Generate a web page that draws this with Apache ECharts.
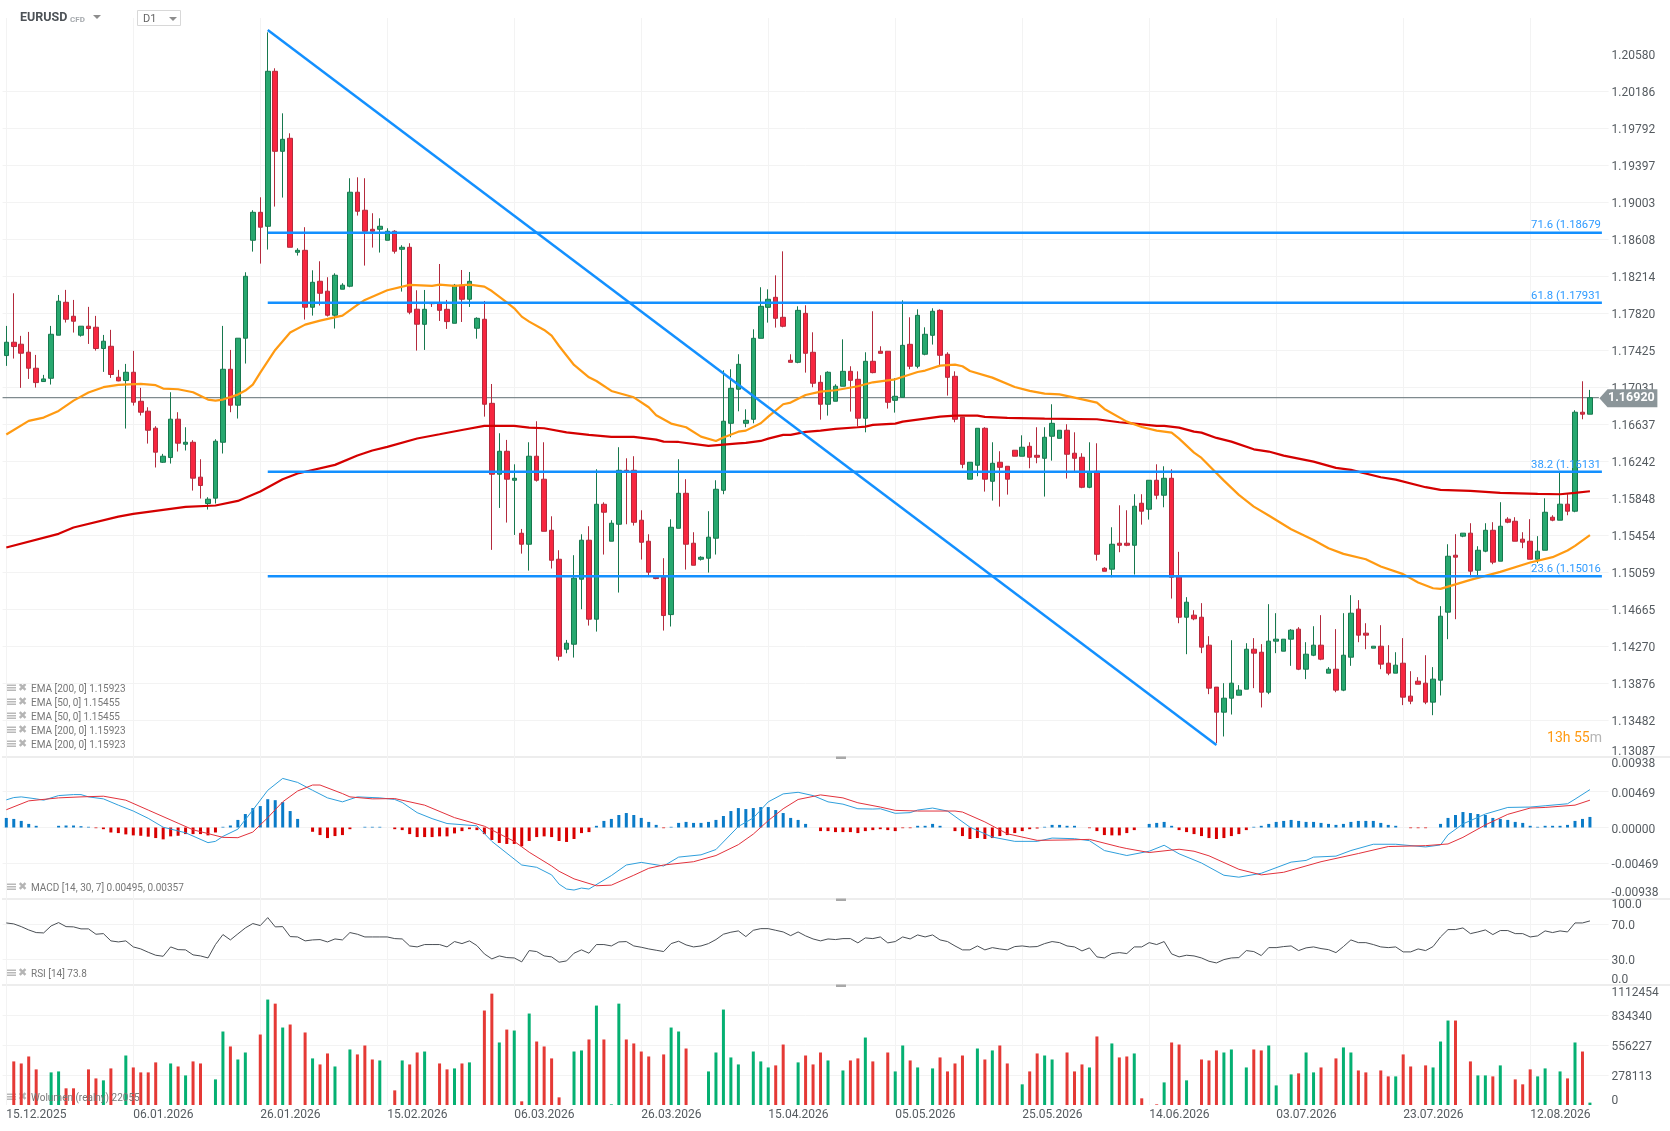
<!DOCTYPE html>
<html><head><meta charset="utf-8">
<style>html,body{margin:0;padding:0;background:#fff}#c{width:1670px;height:1131px}</style>
<script src="https://cdn.jsdelivr.net/npm/echarts@6/dist/echarts.min.js"></script>
</head><body><div id="c"></div>
<script>
const opens=[1.17369,1.17511,1.17490,1.17405,1.17234,1.17092,1.17127,1.17586,1.17937,1.17788,1.17586,1.17682,1.17671,1.17444,1.17468,1.17138,1.17103,1.17191,1.16882,1.16776,1.16595,1.16232,1.16282,1.16691,1.16424,1.16445,1.16073,1.15792,1.15849,1.16445,1.17223,1.16840,1.17554,1.18598,1.18896,1.18747,1.20399,1.19546,1.19685,1.18470,1.18491,1.17884,1.18161,1.18055,1.17799,1.18076,1.18108,1.19110,1.18918,1.18715,1.18715,1.18598,1.18694,1.18502,1.18523,1.17863,1.17702,1.17933,1.17926,1.17862,1.17713,1.18118,1.17969,1.17660,1.17756,1.16860,1.16104,1.16349,1.16040,1.15475,1.15358,1.16296,1.16051,1.15507,1.15198,1.14239,1.14292,1.14985,1.15401,1.14559,1.15784,1.15390,1.15571,1.16146,1.16146,1.15614,1.15390,1.15006,1.15006,1.14608,1.15528,1.15901,1.15369,1.15198,1.15209,1.15422,1.15933,1.16647,1.17010,1.16647,1.16690,1.17553,1.17883,1.17990,1.17777,1.17319,1.17297,1.17819,1.17404,1.17084,1.16850,1.16882,1.17042,1.17201,1.17116,1.16701,1.17308,1.17415,1.17415,1.16892,1.16924,1.17489,1.17255,1.17383,1.17585,1.17851,1.17383,1.17148,1.16711,1.16051,1.16200,1.16594,1.16029,1.16232,1.16189,1.16360,1.16296,1.16402,1.16306,1.16274,1.16509,1.16487,1.16573,1.16328,1.16285,1.15965,1.16136,1.15102,1.15092,1.15369,1.15369,1.15347,1.15795,1.15731,1.16040,1.15880,1.16061,1.15014,1.14580,1.14602,1.14580,1.14282,1.13835,1.13568,1.13717,1.13749,1.13813,1.14239,1.14207,1.13781,1.14325,1.14218,1.14346,1.14453,1.14026,1.14175,1.14282,1.13984,1.14026,1.13803,1.14154,1.14666,1.14410,1.14250,1.14271,1.14090,1.13984,1.14090,1.13739,1.13898,1.13877,1.13675,1.13909,1.14634,1.15241,1.15444,1.15476,1.15081,1.15284,1.15507,1.15177,1.15625,1.15603,1.15412,1.15390,1.15198,1.15294,1.15646,1.15614,1.15785,1.15710,1.16765,1.16744];
const closes=[1.17511,1.17465,1.17394,1.17234,1.17081,1.17120,1.17596,1.17948,1.17756,1.17735,1.17682,1.17657,1.17444,1.17522,1.17167,1.17099,1.17191,1.16872,1.16765,1.16573,1.16339,1.16296,1.16691,1.16435,1.16445,1.16062,1.15984,1.15838,1.16456,1.17223,1.16840,1.17554,1.18214,1.18896,1.18737,1.20399,1.19546,1.19674,1.18523,1.18491,1.17884,1.18150,1.18033,1.17799,1.18225,1.18119,1.19110,1.18907,1.18694,1.18694,1.18747,1.18694,1.18481,1.18523,1.17831,1.17703,1.17862,1.17922,1.17851,1.17731,1.18118,1.17969,1.18160,1.17766,1.16850,1.16104,1.16349,1.16051,1.16061,1.15358,1.16296,1.16040,1.15496,1.15187,1.14164,1.14303,1.14996,1.15401,1.14559,1.15784,1.15699,1.15582,1.16146,1.16136,1.15592,1.15379,1.15060,1.14992,1.14598,1.15539,1.15901,1.15358,1.15134,1.15219,1.15433,1.15944,1.16669,1.17020,1.17276,1.16679,1.17553,1.17894,1.17969,1.17766,1.17681,1.17297,1.17851,1.17393,1.17074,1.16850,1.17191,1.17042,1.17201,1.17105,1.16701,1.17308,1.17187,1.17393,1.16871,1.16935,1.17478,1.17255,1.17798,1.17596,1.17841,1.17372,1.17137,1.16690,1.16210,1.16232,1.16594,1.16051,1.16221,1.16178,1.16051,1.16296,1.16392,1.16285,1.16285,1.16498,1.16647,1.16573,1.16317,1.16274,1.15965,1.16125,1.15251,1.15070,1.15358,1.15347,1.15347,1.15763,1.15710,1.16040,1.15880,1.16061,1.15006,1.14580,1.14740,1.14563,1.14261,1.13824,1.13568,1.13717,1.13877,1.13803,1.14239,1.14197,1.13781,1.14325,1.14346,1.14346,1.14442,1.14026,1.14186,1.14282,1.14133,1.14026,1.13803,1.14175,1.14623,1.14389,1.14389,1.14271,1.14080,1.13984,1.14069,1.13728,1.13685,1.13866,1.13675,1.13920,1.14591,1.15230,1.15220,1.15476,1.15071,1.15294,1.15507,1.15167,1.15550,1.15593,1.15390,1.15380,1.15198,1.15284,1.15699,1.15614,1.15785,1.15710,1.16765,1.16744,1.16920];
const highs=[1.17685,1.18033,1.17579,1.17621,1.17376,1.17163,1.17685,1.18015,1.18069,1.17962,1.17682,1.17888,1.17792,1.17589,1.17643,1.17216,1.17280,1.17419,1.17025,1.16818,1.16616,1.16321,1.16978,1.16765,1.16605,1.16467,1.16264,1.15859,1.16477,1.17685,1.17429,1.17554,1.18257,1.18918,1.19056,1.20814,1.20431,1.19951,1.19738,1.18513,1.18737,1.18278,1.18374,1.18204,1.18246,1.18140,1.19259,1.19269,1.19259,1.18886,1.18832,1.18726,1.18705,1.18545,1.18566,1.18065,1.18068,1.17937,1.18345,1.17962,1.18132,1.18281,1.18260,1.17777,1.17951,1.17066,1.16541,1.16470,1.16210,1.15521,1.16445,1.16669,1.16445,1.15656,1.15294,1.14338,1.15241,1.15464,1.15550,1.16157,1.15805,1.15614,1.16392,1.16274,1.16296,1.15720,1.15464,1.15006,1.15209,1.15624,1.16264,1.16051,1.15486,1.15230,1.15710,1.16040,1.17212,1.17223,1.17383,1.16796,1.17649,1.18097,1.18075,1.18224,1.18480,1.17383,1.17894,1.17905,1.17617,1.17159,1.17201,1.17063,1.17542,1.17255,1.17201,1.17404,1.17841,1.17468,1.17415,1.17127,1.17958,1.17777,1.17862,1.17670,1.17873,1.17862,1.17404,1.17201,1.16711,1.16232,1.16594,1.16605,1.16445,1.16349,1.16189,1.16360,1.16519,1.16445,1.16605,1.16605,1.16850,1.16573,1.16637,1.16551,1.16328,1.16445,1.16434,1.15113,1.15539,1.15773,1.15720,1.15891,1.15891,1.16040,1.16210,1.16189,1.16157,1.15277,1.14794,1.14655,1.14730,1.14378,1.13835,1.13877,1.14335,1.13856,1.14303,1.14357,1.14293,1.14719,1.14623,1.14346,1.14453,1.14474,1.14314,1.14484,1.14602,1.14048,1.14453,1.14623,1.14815,1.14762,1.14516,1.14271,1.14495,1.14282,1.14207,1.14357,1.14005,1.13941,1.14175,1.14048,1.14698,1.15358,1.15465,1.15476,1.15582,1.15337,1.15582,1.15593,1.15806,1.15646,1.15646,1.15486,1.15625,1.15444,1.15848,1.15667,1.16136,1.15891,1.16786,1.17095,1.17003];
const lows=[1.17259,1.17337,1.17025,1.17120,1.17028,1.17088,1.17060,1.17586,1.17721,1.17614,1.17571,1.17493,1.17422,1.17195,1.17131,1.17095,1.16591,1.16836,1.16730,1.16431,1.16176,1.16225,1.16218,1.16346,1.16357,1.15930,1.15845,1.15728,1.15792,1.16325,1.16765,1.16698,1.17284,1.18477,1.18349,1.18499,1.18957,1.19053,1.18523,1.18435,1.17753,1.17795,1.17902,1.17785,1.17657,1.18076,1.18097,1.18861,1.18328,1.18520,1.18467,1.18598,1.18456,1.18051,1.17809,1.17422,1.17429,1.17887,1.17738,1.17653,1.17713,1.17727,1.17887,1.17549,1.16718,1.15298,1.15745,1.15589,1.15457,1.15258,1.15077,1.16026,1.15496,1.15099,1.14118,1.14196,1.14150,1.14665,1.14491,1.14427,1.15248,1.15390,1.14843,1.15571,1.15557,1.15195,1.15028,1.14985,1.14438,1.14481,1.15528,1.15088,1.15134,1.15184,1.15056,1.15248,1.15891,1.16498,1.16775,1.16605,1.16647,1.17553,1.17720,1.17667,1.17670,1.17297,1.17287,1.17187,1.17031,1.16686,1.16729,1.16882,1.17042,1.16772,1.16612,1.16551,1.17180,1.17393,1.16804,1.16761,1.16924,1.17223,1.17233,1.17372,1.17486,1.17265,1.16942,1.16658,1.16168,1.16051,1.16083,1.15919,1.15823,1.15759,1.15887,1.16296,1.16296,1.16168,1.16221,1.15866,1.16249,1.16487,1.16058,1.16132,1.15955,1.15955,1.15184,1.15070,1.15006,1.15273,1.15337,1.15035,1.15567,1.15621,1.15837,1.15752,1.14779,1.14516,1.14186,1.14548,1.14197,1.13760,1.13238,1.13309,1.13543,1.13749,1.13813,1.13824,1.13618,1.13760,1.14197,1.14218,1.14062,1.14016,1.13920,1.14165,1.14122,1.13984,1.13781,1.13792,1.14062,1.14314,1.14239,1.14250,1.14026,1.13962,1.13984,1.13643,1.13653,1.13866,1.13653,1.13536,1.13746,1.14346,1.14559,1.15433,1.15007,1.15028,1.15273,1.15145,1.15177,1.15582,1.15390,1.15316,1.15198,1.15156,1.15294,1.15603,1.15614,1.15667,1.15699,1.16690,1.16744];

const ema50Idx=[0,3,5,7,9,11,13,15,18,20,21,23,25,27,28,29,31,32,33,34,36,38,40,42,45,47,48,51,54,57,58,60,62,64,65,67,68,69,70,72,73,74,76,78,79,81,84,86,87,89,91,93,95,96,98,99,101,102,104,105,107,109,111,114,116,119,122,123,125,127,128,129,132,135,137,139,141,143,146,147,150,152,154,156,157,159,160,163,165,167,169,172,175,177,179,182,184,187,189,191,192,196,200,204,207,209,210,212];
const ema50Val=[1.16527,1.16673,1.16708,1.16779,1.16889,1.16975,1.17032,1.17056,1.17067,1.17053,1.17017,1.17010,1.16978,1.16900,1.16889,1.16900,1.16953,1.16996,1.17060,1.17188,1.17429,1.17614,1.17699,1.17742,1.17795,1.17909,1.17962,1.18065,1.18122,1.18111,1.18125,1.18111,1.18125,1.18104,1.18057,1.17937,1.17873,1.17784,1.17731,1.17642,1.17581,1.17471,1.17269,1.17137,1.17098,1.16992,1.16924,1.16818,1.16733,1.16644,1.16605,1.16505,1.16459,1.16495,1.16558,1.16569,1.16647,1.16718,1.16850,1.16868,1.16949,1.16985,1.16999,1.17042,1.17084,1.17116,1.17194,1.17209,1.17262,1.17272,1.17255,1.17205,1.17134,1.17034,1.16992,1.16963,1.16956,1.16921,1.16868,1.16800,1.16665,1.16608,1.16569,1.16548,1.16484,1.16335,1.16278,1.16036,1.15884,1.15759,1.15664,1.15518,1.15404,1.15316,1.15255,1.15198,1.15120,1.15039,1.14950,1.14889,1.14882,1.14978,1.15063,1.15163,1.15220,1.15291,1.15341,1.15455];
const ema200Idx=[0,7,9,15,17,21,24,28,31,34,37,39,44,47,49,51,55,58,61,64,68,70,72,75,78,81,84,87,88,90,94,98,99,101,102,104,105,107,109,111,114,115,116,119,120,125,127,130,131,134,139,146,149,151,154,155,157,159,160,162,164,167,169,171,175,178,180,184,186,190,192,196,200,205,208,210,212];
const ema200Val=[1.15323,1.15469,1.15536,1.15653,1.15682,1.15724,1.15756,1.15771,1.15820,1.15920,1.16051,1.16112,1.16204,1.16303,1.16357,1.16396,1.16485,1.16530,1.16576,1.16619,1.16619,1.16601,1.16594,1.16551,1.16523,1.16502,1.16502,1.16473,1.16452,1.16448,1.16406,1.16434,1.16438,1.16459,1.16484,1.16523,1.16523,1.16555,1.16569,1.16587,1.16605,1.16612,1.16630,1.16644,1.16665,1.16718,1.16729,1.16729,1.16715,1.16704,1.16697,1.16690,1.16658,1.16644,1.16619,1.16619,1.16601,1.16558,1.16548,1.16491,1.16452,1.16370,1.16346,1.16303,1.16239,1.16172,1.16150,1.16072,1.16047,1.15966,1.15937,1.15927,1.15905,1.15895,1.15891,1.15905,1.15923];

const macdHist=[.00125,.00112,.00086,.00047,.00022,0,0,.00022,.00026,.00026,.00017,.00009,-.00009,-.00022,-.00065,-.00073,-.00090,-.00103,-.00108,-.00120,-.00138,-.00155,-.00116,-.00108,-.00086,-.00086,-.00086,-.00103,-.00065,.00009,.00026,.00099,.00176,.00254,.00280,.00370,.00357,.00331,.00215,.00112,0,-.00056,-.00099,-.00138,-.00112,-.00099,-.00022,0,.00009,.00009,.00009,0,-.00022,-.00034,-.00086,-.00125,-.00125,-.00125,-.00116,-.00116,-.00077,-.00047,-.00022,-.00034,-.00086,-.00163,-.00202,-.00215,-.00215,-.00245,-.00176,-.00125,-.00116,-.00125,-.00176,-.00189,-.00150,-.00073,-.00060,.00022,.00086,.00112,.00163,.00189,.00163,.00125,.00073,.00034,-.00009,.00009,.00060,.00073,.00060,.00060,.00073,.00099,.00150,.00215,.00254,.00241,.00254,.00267,.00267,.00228,.00189,.00125,.00099,.00047,0,-.00047,-.00047,-.00060,-.00060,-.00060,-.00073,-.00047,-.00034,-.00022,-.00034,-.00047,-.00009,-.00009,.00022,.00022,.00047,.00022,0,-.00047,-.00112,-.00150,-.00138,-.00150,-.00138,-.00112,-.00099,-.00073,-.00047,-.00022,-.00013,.00009,.00034,.00034,.00022,.00022,0,-.00009,-.00047,-.00099,-.00103,-.00103,-.00073,-.00034,0,.00047,.00060,.00073,.00022,-.00034,-.00060,-.00086,-.00112,-.00138,-.00150,-.00138,-.00112,-.00086,-.00034,.00009,.00022,.00047,.00073,.00086,.00099,.00086,.00073,.00073,.00060,.00047,.00034,.00047,.00073,.00086,.00086,.00086,.00060,.00034,.00022,0,-.00009,-.00009,-.00009,0,.00047,.00125,.00163,.00202,.00189,.00176,.00163,.00125,.00112,.00099,.00073,.00060,.00022,.00009,.00022,.00022,.00022,.00034,.00086,.00112,.00138];
const macdIdx=[0,1,2,4,5,7,9,10,11,13,15,17,19,21,24,27,28,29,31,33,35,37,39,41,43,45,47,50,52,53,55,57,59,63,65,69,71,73,74,75,76,77,78,81,83,85,88,90,93,95,98,100,102,104,106,108,110,112,114,116,117,119,121,122,124,126,129,132,135,138,140,143,145,147,149,150,153,155,157,160,163,165,168,172,174,175,178,180,183,186,190,192,193,195,198,201,204,206,209,210,212];
const macdVal=[.00361,.00391,.00400,.00374,.00357,.00417,.00430,.00430,.00400,.00374,.00292,.00215,.00120,.00004,-.00069,-.00198,-.00181,-.00116,-.00022,.00228,.00486,.00641,.00589,.00486,.00387,.00335,.00400,.00387,.00366,.00327,.00194,.00116,.00052,.00022,-.00181,-.00490,-.00520,-.00619,-.00740,-.00804,-.00817,-.00791,-.00804,-.00628,-.00490,-.00456,-.00503,-.00387,-.00357,-.00288,.00013,.00125,.00335,.00439,.00460,.00417,.00335,.00305,.00245,.00241,.00245,.00185,.00194,.00228,.00254,.00215,.00004,-.00125,-.00181,-.00181,-.00138,-.00146,-.00172,-.00301,-.00344,-.00366,-.00310,-.00232,-.00344,-.00464,-.00624,-.00649,-.00598,-.00452,-.00430,-.00387,-.00374,-.00301,-.00219,-.00219,-.00254,-.00228,-.00095,.00047,.00176,.00262,.00267,.00284,.00310,.00370,.00495];
const signalIdx=[0,3,7,10,13,16,19,23,25,29,31,33,35,37,39,41,42,45,46,49,52,56,60,64,68,70,73,74,76,79,81,84,86,88,92,95,98,100,102,104,106,109,112,114,117,119,122,127,128,131,134,138,142,145,149,150,153,157,159,161,165,168,171,176,181,185,190,193,195,198,201,204,206,210,212];
const signalVal=[.00232,.00348,.00387,.00400,.00409,.00357,.00228,.00056,-.00030,-.00129,-.00133,-.00060,.00129,.00335,.00477,.00555,.00555,.00443,.00400,.00374,.00378,.00292,.00129,.00017,-.00181,-.00323,-.00503,-.00572,-.00671,-.00761,-.00753,-.00624,-.00533,-.00490,-.00447,-.00366,-.00224,-.00086,.00090,.00245,.00366,.00426,.00387,.00323,.00267,.00224,.00215,.00215,.00202,.00073,-.00082,-.00168,-.00163,-.00155,-.00254,-.00275,-.00327,-.00284,-.00310,-.00370,-.00546,-.00619,-.00585,-.00447,-.00340,-.00249,-.00237,-.00215,-.00129,.00034,.00172,.00254,.00262,.00292,.00357];

const rsiVal=[71.5,70.4,67.3,63.5,60.5,60.1,68.1,71.9,67.3,67.0,64.7,64.7,58.6,59.3,51.0,49.8,51.0,44.1,41.8,38.0,34.6,33.4,44.1,41.0,40.7,35.0,33.8,31.5,46.8,58.2,52.1,59.0,65.8,70.8,68.5,77.6,67.0,67.3,55.9,55.5,51.0,52.1,52.5,49.8,53.2,52.1,60.5,58.6,55.5,55.5,55.5,55.5,53.6,53.2,45.2,44.1,46.8,46.8,46.8,44.1,50.2,47.9,51.0,45.6,36.1,30.4,33.8,31.9,31.5,27.0,39.9,38.8,33.8,32.7,26.6,28.1,36.9,40.7,36.9,46.8,46.8,45.2,49.8,50.2,45.2,43.7,41.8,40.3,38.8,47.9,50.6,46.4,44.1,45.2,47.9,52.5,58.6,60.9,62.4,55.9,63.1,65.0,65.0,63.1,61.2,57.0,61.2,56.7,53.2,51.0,53.2,52.5,53.6,53.6,48.7,54.4,53.6,55.5,48.7,50.2,55.5,53.2,57.8,55.5,57.8,52.1,50.2,45.2,40.7,40.7,45.2,40.7,43.3,41.8,40.7,44.5,45.2,44.1,44.5,47.9,50.2,49.0,45.2,44.1,39.5,43.0,32.7,31.5,36.5,37.6,36.5,44.1,44.1,49.0,46.8,50.2,36.1,32.7,34.6,33.8,31.5,27.7,25.8,29.6,31.5,31.9,39.9,38.8,34.2,43.3,43.3,44.5,45.2,39.9,43.0,44.1,42.2,41.0,37.6,44.5,52.1,49.0,49.0,46.8,44.1,43.3,44.1,38.4,38.4,41.8,39.9,44.5,55.5,63.9,63.9,65.8,59.3,61.2,63.5,58.2,62.8,62.8,59.3,59.3,55.5,56.7,62.4,60.5,62.4,61.2,71.5,71.5,73.8];

const volumeUp=[[6,303000],[7,312000],[13,229000],[16,460000],[22,386000],[24,275000],[28,238000],[29,683000],[31,423000],[32,488000],[35,980000],[37,720000],[41,433000],[44,358000],[46,516000],[50,414000],[53,414000],[56,497000],[60,340000],[62,396000],[66,581000],[68,692000],[70,850000],[76,497000],[77,507000],[79,924000],[81,6000],[82,942000],[89,720000],[90,683000],[94,312000],[95,488000],[96,887000],[97,442000],[98,377000],[100,497000],[101,405000],[102,349000],[106,396000],[110,414000],[112,321000],[115,627000],[119,312000],[120,553000],[122,349000],[124,340000],[130,525000],[132,507000],[136,192000],[139,460000],[140,423000],[145,349000],[148,572000],[151,479000],[155,210000],[158,229000],[163,488000],[164,516000],[166,349000],[169,553000],[170,182000],[172,284000],[174,488000],[175,303000],[179,535000],[180,488000],[186,266000],[191,349000],[192,590000],[193,785000],[197,275000],[198,275000],[200,368000],[205,266000],[206,340000],[208,312000],[210,581000],[212,22055]];
const volumeDown=[[1,405000],[2,386000],[3,451000],[4,331000],[8,155000],[9,155000],[11,331000],[12,247000],[14,340000],[17,349000],[18,303000],[19,303000],[20,396000],[23,358000],[25,405000],[26,386000],[30,544000],[34,655000],[36,942000],[38,748000],[40,674000],[42,377000],[43,479000],[47,470000],[48,553000],[49,423000],[52,136000],[54,377000],[55,488000],[58,386000],[59,331000],[61,386000],[64,878000],[65,1035000],[67,701000],[69,34000],[71,590000],[72,544000],[73,433000],[74,71000],[78,609000],[80,609000],[83,609000],[84,572000],[85,497000],[86,451000],[88,470000],[91,525000],[103,368000],[104,562000],[107,460000],[108,377000],[109,488000],[113,414000],[114,433000],[116,405000],[118,488000],[121,414000],[125,442000],[126,312000],[127,386000],[128,460000],[131,423000],[133,553000],[134,386000],[137,312000],[138,479000],[142,488000],[143,312000],[144,377000],[146,637000],[149,442000],[150,451000],[152,62000],[154,6000],[156,581000],[157,562000],[160,423000],[161,414000],[162,507000],[167,516000],[168,507000],[173,294000],[176,349000],[178,433000],[181,321000],[182,303000],[184,321000],[185,266000],[187,470000],[188,358000],[190,368000],[194,785000],[196,405000],[199,266000],[202,238000],[203,192000],[204,331000],[209,247000],[211,497000]];

const dateTicks=['15.12.2025','06.01.2026','26.01.2026','15.02.2026','06.03.2026','26.03.2026','15.04.2026','05.05.2026','25.05.2026','14.06.2026','03.07.2026','23.07.2026','12.08.2026'];
const priceTicks=[1.13087,1.13482,1.13876,1.14270,1.14665,1.15059,1.15454,1.15848,1.16242,1.16637,1.17031,1.17425,1.17820,1.18214,1.18608,1.19003,1.19397,1.19792,1.20186,1.20580];
const macdTicks=[-0.00938,-0.00469,0,0.00469,0.00938];
const rsiTicks=[0,30,70,100];
const volumeTicks=[0,278113,556227,834340,1112454];
const fibLevels=[[71.6,1.18679],[61.8,1.17931],[38.2,1.16131],[23.6,1.15016]];
const trendLine=[[35,1.20839],[162,1.13217]];
const lastPrice=1.16920;
const fibStart=35, fibEnd=213.6;

const BAND=7.47, N=215, LEFT=2.565, W=BAND*N;
const categories=Array.from({length:N},(_,i)=>i%17===0&&dateTicks[i/17]?dateTicks[i/17]:String(i));
const candles=opens.map((o,i)=>[o,closes[i],lows[i],highs[i]]);
const pairs=(a,b)=>a.map((x,i)=>[x,b[i]]);
const FONT='Roboto';
const LABEL='#555b60';
const GRID='#f3f3f3';

function xCat(g,last){return {type:'category',gridIndex:g,data:categories,boundaryGap:true,
  axisLine:{show:false},axisTick:{show:false,alignWithLabel:true,interval:16},
  axisLabel:{show:last,interval:16,align:'left',margin:4,color:LABEL,fontFamily:FONT,fontSize:12},
  splitLine:{show:true,interval:16,alignWithLabel:true,lineStyle:{color:GRID,width:1}}};}
function xVal(g){return {type:'value',gridIndex:g,min:-0.5,max:N-0.5,show:false,splitLine:{show:false}};}
// each tick label is a rich token: mid labels sit just below their grid line, the end labels are pushed inside the pane
function yAxis(g,min,max,ticks,fmt,midPad,topPad,botPad){
  const tok=p=>({color:LABEL,fontFamily:FONT,fontSize:12,padding:p,align:'left'});
  const lo=ticks[0],hi=ticks[ticks.length-1];
  return {type:'value',gridIndex:g,position:'right',min,max,scale:true,
  axisLine:{show:false},axisTick:{show:false,customValues:ticks},
  axisLabel:{customValues:ticks,margin:3,align:'left',
    formatter:v=>{const k=(v===lo&&botPad!=null)?'b':(v===hi&&topPad!=null)?'t':'m';return '{'+k+'|'+fmt(v)+'}';},
    rich:{m:tok([midPad,0,0,0]),t:tok([topPad||0,0,0,0]),b:tok([0,0,botPad||0,0])}},
  splitLine:{show:true,showMinLine:false,showMaxLine:false,lineStyle:{color:GRID,width:1}}};}

const panes=[[18,739.3],[755.7,143.6],[898,87.5],[985.3,119.7]];
const series=[];
// main pane
series.push({type:'line',xAxisIndex:4,yAxisIndex:0,data:[[-0.5,lastPrice],[213.2,lastPrice]],symbol:'none',silent:true,z:1,
  lineStyle:{color:'#7f8a8e',width:1.2},
  markPoint:{silent:true,symbol:'path://M0 50 L14 0 L100 0 L100 100 L14 100 Z',symbolSize:[58,18],symbolKeepAspect:false,symbolOffset:[29.5,0.5],
    data:[{coord:[213.2,lastPrice],value:lastPrice}],itemStyle:{color:'#8b9599'},
    label:{show:true,position:'inside',offset:[3,0],formatter:()=>lastPrice.toFixed(5),color:'#fff',fontFamily:FONT,fontWeight:'bold',fontSize:12.5}}});
series.push({type:'candlestick',xAxisIndex:0,yAxisIndex:0,data:candles,barWidth:5,z:2,
  itemStyle:{color:'#27a86f',color0:'#f7263f',borderColor:'#17784e',borderColor0:'#b32a3c',borderWidth:1}});
series.push({type:'line',xAxisIndex:4,yAxisIndex:0,data:pairs(ema200Idx,ema200Val),symbol:'none',z:3,lineStyle:{color:'#d40000',width:2.2}});
series.push({type:'line',xAxisIndex:4,yAxisIndex:0,data:pairs(ema50Idx,ema50Val),symbol:'none',z:3,lineStyle:{color:'#ff9a12',width:2.2}});
series.push({type:'line',xAxisIndex:4,yAxisIndex:0,data:trendLine,symbol:'none',z:4,lineStyle:{color:'#1390ff',width:2.5}});
fibLevels.forEach(([lv,p])=>series.push({type:'line',xAxisIndex:4,yAxisIndex:0,data:[[fibStart,p],[fibEnd,p]],symbol:'none',z:4,
  lineStyle:{color:'#1390ff',width:2.5},
  markPoint:{silent:true,symbol:'circle',symbolSize:0,data:[{coord:[fibEnd,p]}],
    label:{show:true,position:'insideRight',offset:[4,-7],align:'right',formatter:()=>lv.toFixed(1)+' ('+p.toFixed(5),color:'#2f9bff',fontFamily:FONT,fontSize:11.3}}}));
// macd
series.push({type:'bar',xAxisIndex:1,yAxisIndex:1,barWidth:3,data:macdHist.map(v=>({value:v,itemStyle:{color:v>=0?'#0a7bc8':'#d80000'}}))});
series.push({type:'line',xAxisIndex:5,yAxisIndex:1,data:pairs(macdIdx,macdVal),symbol:'none',z:3,lineStyle:{color:'#2f9fdc',width:1}});
series.push({type:'line',xAxisIndex:5,yAxisIndex:1,data:pairs(signalIdx,signalVal),symbol:'none',z:3,lineStyle:{color:'#e2323c',width:1}});
// rsi
series.push({type:'line',xAxisIndex:2,yAxisIndex:2,data:rsiVal,symbol:'none',lineStyle:{color:'#4a4f55',width:1}});
// volume
series.push({type:'bar',xAxisIndex:3,yAxisIndex:3,barWidth:3,barGap:'-100%',data:volumeUp,itemStyle:{color:'#05b072'}});
series.push({type:'bar',xAxisIndex:3,yAxisIndex:3,barWidth:3,barGap:'-100%',data:volumeDown,itemStyle:{color:'#e53935'}});

const g=[];
function legendRow(y,txt){
  [-4,-1.5,1].forEach(d=>g.push({type:'rect',shape:{x:6,y:y+d,width:10,height:1.5},style:{fill:'#b9b9b9'},silent:true}));
  g.push({type:'text',x:18,y:y,style:{text:'✖',font:'11px "DejaVu Sans"',fill:'#b5b5b5',textVerticalAlign:'middle'},silent:true});
  g.push({type:'text',x:31,y:y+0.5,style:{text:txt,font:'10px Roboto',fill:'#777',textVerticalAlign:'middle'},silent:true,z:10});
}
[[688.5,'EMA [200, 0] 1.15923'],[702.5,'EMA [50, 0] 1.15455'],[716.5,'EMA [50, 0] 1.15455'],[730.5,'EMA [200, 0] 1.15923'],[744.5,'EMA [200, 0] 1.15923'],
 [887.5,'MACD [14, 30, 7] 0.00495, 0.00357'],[973.5,'RSI [14] 73.8'],[1097.5,'Wolumen (realny) 22055']].forEach(r=>legendRow(r[0],r[1]));
[757,899,985].forEach(y=>{
  g.push({type:'rect',shape:{x:2,y:y-0.5,width:1668,height:1},style:{fill:'#dcdcdc'},silent:true});
  g.push({type:'rect',shape:{x:836,y:y-0.5,width:10,height:2.5},style:{fill:'#a8a8a8'},silent:true});
});
g.push({type:'text',x:20,y:18,style:{text:'EURUSD',font:'bold 12.5px Roboto',fill:'#4d5257',textVerticalAlign:'middle'}});
g.push({type:'text',x:70,y:19.5,style:{text:'CFD',font:'bold 8px Roboto',fill:'#a5a9ad',textVerticalAlign:'middle'}});
g.push({type:'polygon',shape:{points:[[93,15],[101,15],[97,19]]},style:{fill:'#8d8d8d'}});
g.push({type:'rect',shape:{x:137.5,y:10.5,width:43,height:15},style:{fill:'#fff',stroke:'#d8d8d8',lineWidth:1}});
g.push({type:'text',x:143,y:19.5,style:{text:'D1',font:'11px Roboto',fill:'#666',textVerticalAlign:'middle'}});
g.push({type:'polygon',shape:{points:[[169,17],[177,17],[173,21]]},style:{fill:'#8d8d8d'}});
g.push({type:'text',x:1602,y:738,style:{text:'{a|13h 55}{b|m}',textAlign:'right',textVerticalAlign:'middle',
  rich:{a:{fontSize:14,fontFamily:'Roboto',color:'#ff9a12',fill:'#ff9a12'},b:{fontSize:14,fontFamily:'Roboto',color:'#b5b5b5',fill:'#b5b5b5'}}},z:10});

const chart=echarts.init(document.getElementById('c'),null,{renderer:'canvas'});
chart.setOption({animation:false,backgroundColor:'#fff',
  grid:panes.map(p=>({left:LEFT,width:W,top:p[0],height:p[1],containLabel:false})),
  xAxis:[xCat(0,false),xCat(1,false),xCat(2,false),xCat(3,true),xVal(0),xVal(1)],
  yAxis:[
    yAxis(0,1.13087,1.20967,priceTicks,v=>v.toFixed(5),3.2,null,11.4),
    yAxis(1,-0.00938,0.00938,macdTicks,v=>v.toFixed(5),4,17.4,11.8),
    yAxis(2,0,100,rsiTicks,v=>v.toFixed(1),3.5,14,11.6),
    yAxis(3,0,1112454,volumeTicks,v=>String(Math.round(v)),4,14.4,8)
  ],
  series,graphic:g});
</script></body></html>
